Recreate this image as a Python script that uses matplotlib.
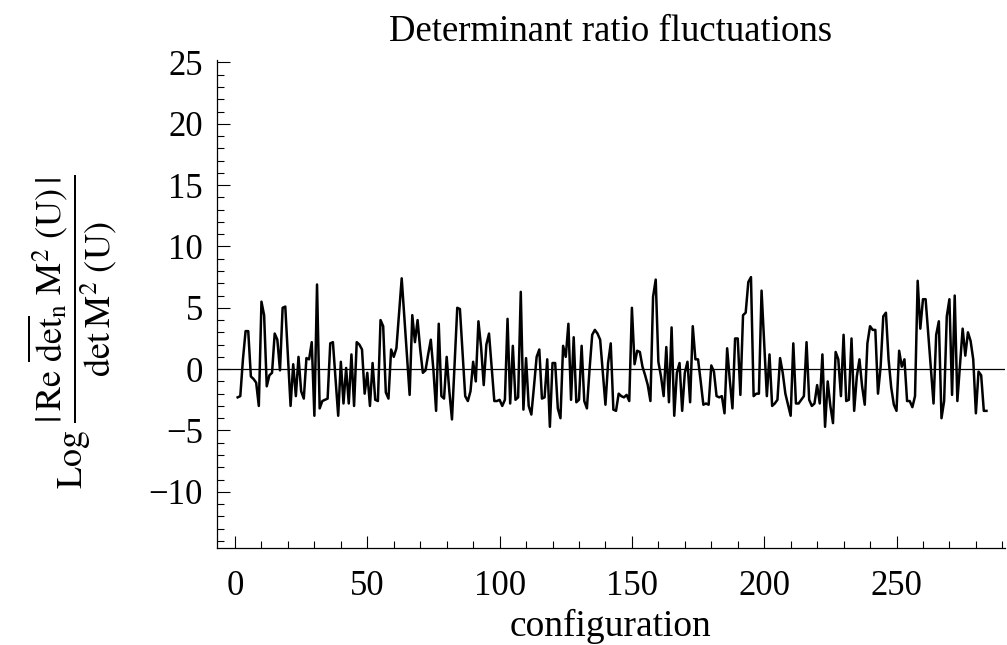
import matplotlib
matplotlib.use("Agg")
import matplotlib.pyplot as plt
from matplotlib.ticker import MultipleLocator

plt.rcParams["font.family"] = ["Liberation Serif", "DejaVu Serif"]
plt.rcParams["mathtext.fontset"] = "stix"

# log of determinant ratio, one value per configuration (1..284)
values = [
    -2.3, -2.2, 0.8, 3.1, 3.1, -0.6, -0.8, -1.1, -3.0, 5.5,
    4.4, -1.4, -0.5, -0.3, 2.9, 2.4, -0.1, 5.0, 5.1, 1.0,
    -3.0, 0.4, -2.2, 1.0, -1.8, -2.4, 0.9, 0.8, 2.2, -3.8,
    6.9, -3.2, -2.6, -2.5, -2.4, 2.1, 2.2, -0.8, -3.8, 0.6,
    -2.8, 0.1, -2.8, 1.2, -3.0, 2.2, 2.0, 1.6, -2.0, -0.3,
    -3.0, 0.5, -2.5, -2.6, 4.0, 3.5, -1.9, -2.4, 1.6, 1.0,
    1.7, 4.5, 7.4, 4.2, 0.9, -2.1, 4.4, 2.2, 4.0, 1.6,
    -0.3, -0.1, 1.2, 2.4, -0.1, -3.4, 3.7, -2.2, -2.4, 1.0,
    -1.8, -4.1, 0.5, 5.0, 4.9, 1.3, -2.2, -2.6, -1.8, 0.6,
    -1.0, 3.9, 1.8, -1.3, 2.0, 2.9, 0.2, -2.6, -2.6, -2.5,
    -3.0, -2.5, 4.1, -2.8, 1.9, -2.5, -2.3, 6.3, -3.3, 0.9,
    -3.0, -3.7, -1.4, 1.0, 1.6, -2.4, -2.3, 0.8, -4.7, 0.5,
    0.5, -3.2, -4.0, 1.9, 1.0, 3.7, -2.5, 2.6, -2.7, -2.5,
    1.9, -2.6, -3.2, 0.0, 2.8, 3.2, 2.9, 2.4, -0.3, -2.9,
    0.5, 2.1, -3.3, -3.4, -2.0, -2.2, -2.3, -2.1, -2.6, 5.0,
    0.4, 1.5, 1.4, 0.2, -0.5, -1.3, -2.6, 5.9, 7.3, 0.6,
    -0.6, -2.2, 1.8, -2.7, 3.4, -3.8, -0.3, 0.5, -3.4, -0.3,
    0.6, -2.7, 3.5, 0.8, 0.8, -1.0, -2.9, -2.8, -2.9, 0.3,
    -0.2, -2.2, -2.3, -2.2, -3.6, 1.7, -0.9, -3.2, 2.5, 2.5,
    -2.1, 4.4, 4.6, 7.1, 7.5, -2.2, -2.0, -2.0, 6.4, 2.1,
    -2.2, 1.2, -3.0, -2.8, -2.5, 0.9, -0.3, -2.0, -2.9, -3.8,
    2.1, -2.8, -2.8, -2.5, -2.2, 2.2, -2.5, -3.0, -2.8, -1.3,
    -2.8, 1.2, -4.7, -1.0, -3.0, -4.4, 1.4, 0.8, -2.2, 2.8,
    -2.6, -2.5, 2.5, -3.4, -0.6, 0.8, -1.4, -2.9, 2.1, 3.5,
    3.2, 3.2, -2.0, 0.2, 4.3, 4.6, 0.8, -1.5, -2.9, -3.4,
    1.5, 0.2, 0.8, -2.6, -2.6, -3.1, -2.2, 7.2, 3.3, 5.7,
    5.7, 2.9, 0.0, -2.8, 2.8, 3.9, -4.0, -2.6, 4.3, 5.7,
    -2.1, 6.0, -2.6, 0.3, 3.3, 1.1, 3.0, 2.3, 0.8, -3.6,
    -0.2, -0.5, -3.4, -3.4,
]
configs = list(range(1, len(values) + 1))

x_ticks = [0, 50, 100, 150, 200, 250]
y_ticks = [-10, -5, 0, 5, 10, 15, 20, 25]

fig = plt.figure(figsize=(10.07, 6.45), dpi=100)
ax = fig.add_axes([0.2155, 0.150, 0.7825, 0.757])

ax.axhline(0, color="black", lw=0.9)
ax.plot(configs, values, color="black", lw=1.8)

ax.set_xlim(-6.8, 291)
ax.set_ylim(-14.6, 25.2)
ax.set_xticks(x_ticks)
ax.set_yticks(y_ticks)
ax.xaxis.set_minor_locator(MultipleLocator(10))
ax.yaxis.set_minor_locator(MultipleLocator(1))

for side in ["top", "right"]:
    ax.spines[side].set_visible(False)
ax.spines["left"].set_linewidth(0.9)
ax.spines["bottom"].set_linewidth(0.9)

ax.tick_params(which="both", direction="in", labelsize=25, width=0.8)
ax.tick_params(which="major", length=9)
ax.tick_params(axis="x", which="major", pad=16)
ax.tick_params(axis="y", which="major", pad=10)
ax.tick_params(which="minor", length=5)

ax.set_xlabel("configuration", fontsize=27, labelpad=4)
ax.set_title("Determinant ratio fluctuations", fontsize=26.5, pad=14)

ylabel = (r"$\mathrm{Log}\ \dfrac{|\,\mathrm{Re}\ \overline{\mathrm{det}}_{\mathrm{n}}\ "
          r"\mathrm{M}^{2}\ (\mathrm{U})\,|}{\mathrm{det}\,\mathrm{M}^{2}\ (\mathrm{U})}$")
fig.text(0.072, 0.486, ylabel, rotation=90, fontsize=26, ha="center", va="center")

fig.savefig("out.png", dpi=100)
